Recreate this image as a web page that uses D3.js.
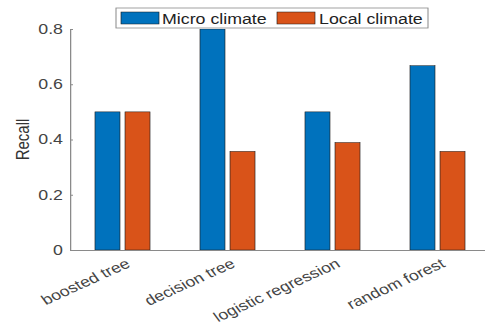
<!DOCTYPE html>
<html>
<head>
<meta charset="utf-8">
<script src="https://cdn.jsdelivr.net/npm/d3@7"></script>
<style>
  body { margin: 0; background: #fff; }
  svg { display: block; }
  text { font-family: "Liberation Sans", Arial, Helvetica, sans-serif; }
</style>
</head>
<body>
<svg id="chart" width="485" height="330"></svg>
<script>
// Recall of each classifier for the two climate feature sets
const categories = ["boosted tree", "decision tree", "logistic regression", "random forest"];
const seriesNames = ["Micro climate", "Local climate"];
const microRecall = [0.5, 0.8, 0.5, 0.667];
const localRecall = [0.5, 0.357, 0.389, 0.357];
const yTicks = [0, 0.2, 0.4, 0.6, 0.8];
const seriesColors = ["#0072BD", "#D95319"];

const W = 485, H = 330;
const SX = 1.27;               // the figure is drawn horizontally stretched
const IW = W / SX;

const svg = d3.select("#chart")
  .attr("viewBox", `0 0 ${IW} ${H}`)
  .attr("preserveAspectRatio", "none");

const plot = { left: 70 / SX, right: 490 / SX, top: 29, bottom: 250 };

const x = d3.scaleLinear().domain([0.5, 4.5]).range([plot.left, plot.right]);
const y = d3.scaleLinear().domain([0, 0.8]).range([plot.bottom, plot.top]);

const series = [microRecall, localRecall];
const barW = 0.238, offsets = [-0.143, 0.143];

svg.append("clipPath").attr("id", "plotClip")
  .append("rect")
  .attr("x", plot.left).attr("y", plot.top)
  .attr("width", plot.right - plot.left).attr("height", plot.bottom - plot.top);

const bars = svg.append("g").attr("clip-path", "url(#plotClip)");
series.forEach((vals, s) => {
  bars.selectAll(null)
    .data(vals)
    .enter().append("rect")
    .attr("x", (d, i) => x(i + 1 + offsets[s] - barW / 2))
    .attr("width", (d, i) => x(i + 1 + offsets[s] + barW / 2) - x(i + 1 + offsets[s] - barW / 2))
    .attr("y", d => y(d))
    .attr("height", d => y(0) - y(d))
    .attr("fill", seriesColors[s])
    .attr("stroke", "#1a1a1a")
    .attr("stroke-width", 0.5);
});

// y axis
const yAxis = svg.append("g")
  .attr("transform", `translate(${plot.left},0)`)
  .call(d3.axisLeft(y)
    .tickValues(yTicks)
    .tickSizeInner(-3 / SX)
    .tickSizeOuter(0)
    .tickPadding(7 / SX)
    .tickFormat(d => d === 0 ? "0" : d3.format(".1f")(d)));
yAxis.select(".domain").attr("stroke", "#8a8a8a");
yAxis.selectAll(".tick line").attr("stroke", "#8a8a8a");
yAxis.selectAll(".tick text")
  .attr("font-size", 14)
  .attr("fill", "#444")
  .style("font-family", "'Liberation Sans', Arial, sans-serif");

// x axis
const xAxis = svg.append("g")
  .attr("transform", `translate(0,${plot.bottom})`)
  .call(d3.axisBottom(x)
    .tickValues([1, 2, 3, 4])
    .tickSizeInner(0)
    .tickSizeOuter(0)
    .tickFormat((d, i) => categories[i]));
xAxis.select(".domain").attr("stroke", "#8a8a8a");
xAxis.selectAll(".tick text")
  .attr("font-size", 14)
  .attr("fill", "#444")
  .attr("x", 0).attr("y", 0).attr("dy", "0.35em")
  .attr("text-anchor", "end")
  .attr("transform", "translate(4,12) rotate(-30)")
  .style("font-family", "'Liberation Sans', Arial, sans-serif");

// y label
svg.append("text")
  .attr("transform", `translate(${29 / SX},${(plot.top + plot.bottom) / 2}) rotate(-90)`)
  .attr("text-anchor", "middle")
  .attr("font-size", 15)
  .attr("fill", "#333")
  .text("Recall");

// legend
const legend = svg.append("g");
legend.append("rect")
  .attr("x", 116 / SX).attr("y", 8)
  .attr("width", (428 - 116) / SX).attr("height", 20)
  .attr("fill", "#fff").attr("stroke", "#8a8a8a").attr("stroke-width", 0.8);
const swatchX = [121, 277], labelX = [162, 319];
seriesNames.forEach((name, s) => {
  legend.append("rect")
    .attr("x", swatchX[s] / SX).attr("y", 12)
    .attr("width", 38 / SX).attr("height", 12)
    .attr("fill", seriesColors[s]).attr("stroke", "#1a1a1a").attr("stroke-width", 0.5);
  legend.append("text")
    .attr("x", labelX[s] / SX).attr("y", 24)
    .attr("font-size", 14)
    .attr("fill", "#222")
    .text(name);
});
</script>
</body>
</html>
